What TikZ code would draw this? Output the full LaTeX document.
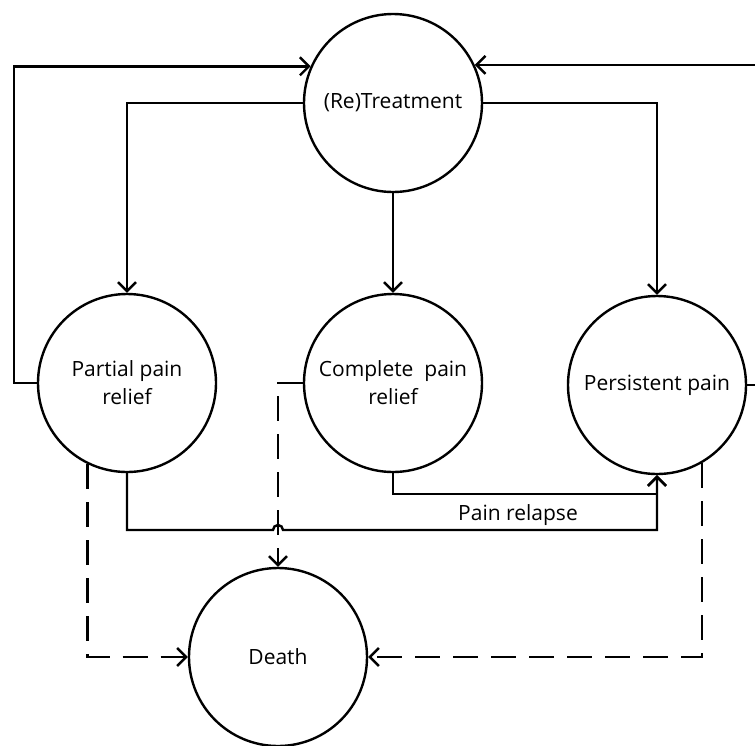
\documentclass[tikz,border=0pt]{standalone}
\usepackage{fontspec}
\setmainfont{Open Sans}
\usetikzlibrary{arrows.meta}
\begin{document}
\begin{tikzpicture}[x=1pt,y=-1pt,
  state/.style={circle,draw,line width=2.4pt,minimum size=178pt,inner sep=0pt,align=center,
    font=\fontsize{21}{28}\selectfont},
  link/.style={line width=2.4pt,-{Straight Barb[length=9pt,width=18pt,line width=2.4pt]}},
  dlink/.style={link,dash pattern=on 25pt off 13pt}]
\useasboundingbox (0,0) rectangle (755,745);
\node[state] (T) at (393,103) {(Re)Treatment};
\node[state] (P) at (127,383) {Partial pain\\relief};
\node[state] (C) at (393,383) {Complete\ \ pain\\relief};
\node[state] (S) at (657,385) {Persistent pain};
\node[state] (D) at (278,657) {Death};
% loops back to treatment
\draw[link] (P.west) -- ++(-23,0) |- (T.156.6);
\draw[link] (S.east) -- ++(12,0) |- (T.25.6);
% treatment outcomes
\draw[link] (T.west) -| (P.north);
\draw[link] (T.east) -| (S.north);
\draw[link] (T.south) -- (C.north);
% relapse
\draw[link] (C.south) -- ++(0,21) -| (S.south);
\draw[link] (P.south) |- (273,530) arc[start angle=180,end angle=0,radius=5pt] -| (S.south);
\node[font=\fontsize{21}{24}\selectfont] (L) at (518,515) {Pain relapse};
% death
\draw[dlink] (P.244.3) |- (D.west);
\draw[dlink] (C.west) -| (D.north);
\draw[dlink] (S.300) |- (D.east);
\end{tikzpicture}
\end{document}
